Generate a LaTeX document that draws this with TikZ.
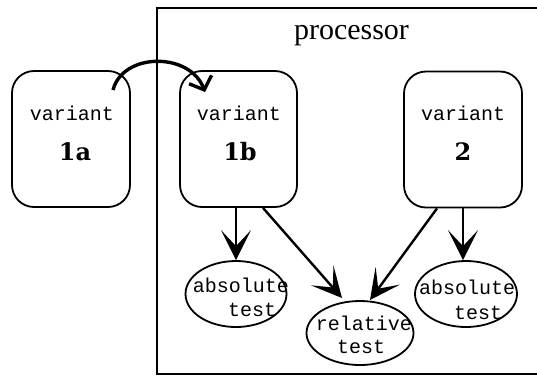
\documentclass[tikz,border=0pt]{standalone}
\usepackage{fontspec}
\setmainfont{DejaVu Serif}
\setmonofont{Liberation Mono}
\newfontfamily\procfont{Liberation Serif}
\usetikzlibrary{arrows.meta,shapes.geometric}
\begin{document}
\begin{tikzpicture}[x=1pt,y=-1pt,
  box/.style={draw,line width=1.8pt,rounded corners=22pt,minimum width=118pt,minimum height=136pt,inner sep=0pt},
  oval/.style={draw,ellipse,line width=1.8pt,inner sep=0pt},
  tt/.style={font=\fontsize{20}{23}\selectfont\ttfamily,inner sep=0pt},
  num/.style={font=\fontsize{24}{28}\selectfont\bfseries,inner sep=0pt},
  arr/.style={line width=2.4pt,-{Stealth[length=30pt,width=30pt,inset=16pt]}},
]
\useasboundingbox (0,0) rectangle (537,376);
% processor container
\node[draw,line width=1.8pt,minimum width=400pt,minimum height=366pt,inner sep=0pt,anchor=north west] (proc) at (156,7) {};
\node[font=\fontsize{30}{34}\selectfont\procfont,inner sep=0pt,anchor=base] (proclabel) at (351.5,39) {processor};
% boxes
\node[box] (a1) at (71,139) {};
\node[box,minimum width=117pt] (b1) at (238.5,139) {};
\node[box] (b2) at (463,139.5) {};
\node[tt,anchor=base] (a1t) at (72,120) {variant};
\node[num,anchor=base] (a1n) at (75,160) {1a};
\node[tt,anchor=base] (b1t) at (239,120) {variant};
\node[num,anchor=base] (b1n) at (240,160) {1b};
\node[tt,anchor=base] (b2t) at (463,120) {variant};
\node[num,anchor=base] (b2n) at (463,160) {2};
% ellipses
\node[oval,minimum width=101pt,minimum height=66pt] (abs1) at (236,294) {};
\node[oval,minimum width=107pt,minimum height=64pt] (rel) at (360,333) {};
\node[oval,minimum width=102pt,minimum height=66pt] (abs2) at (466,294) {};
\node[tt] (abs1a) at (241,285) {absolute};
\node[tt] (abs1b) at (252,310) {test};
\node[tt] (rela) at (364,323) {relative};
\node[tt] (relb) at (361,347) {test};
\node[tt] (abs2a) at (467,287) {absolute};
\node[tt] (abs2b) at (478,313) {test};
% arrows
\draw[arr] ([xshift=-2.5pt]b1.south) -- (abs1.north);
\draw[arr] ([xshift=24.5pt]b1.south) -- ([shift={(-18,-35)}]rel.center);
\draw[arr] ([xshift=-26pt]b2.south) -- ([shift={(10,-33)}]rel.center);
\draw[arr] (b2.south) -- (b2.south |- abs2.north);
\coordinate (arcstart) at ([shift={(42,-49)}]a1.center);
\coordinate (arcend) at ([shift={(-33.5,-47)}]b1.center);
\draw[line width=3.4pt,-{Straight Barb[length=11pt,width=24pt]}] (arcstart) .. controls ([shift={(10,-38)}]arcstart) and ([shift={(-15,-40)}]arcend) .. (arcend);
\end{tikzpicture}
\end{document}
